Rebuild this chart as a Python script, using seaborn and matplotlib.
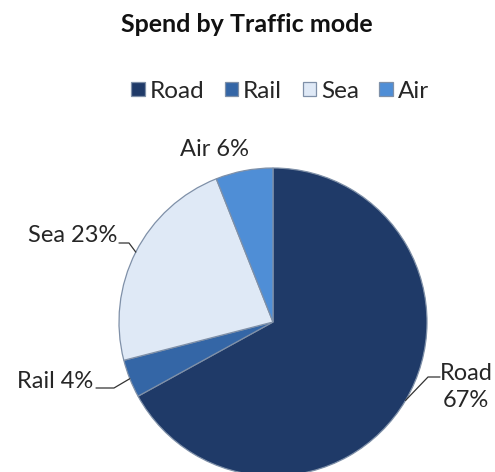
import matplotlib
matplotlib.use("Agg")
import matplotlib.pyplot as plt
import seaborn as sns
import numpy as np

# Spend share by traffic mode (%)
modes = ["Road", "Rail", "Sea", "Air"]
shares = [67, 4, 23, 6]
colors = ["#1f3a68", "#3466a6", "#dfe9f6", "#4f8ed6"]

sns.set_theme(style="white")
plt.rcParams["font.family"] = ["Lato", "DejaVu Sans"]

W, H = 495, 472
fig = plt.figure(figsize=(W / 100, H / 100), dpi=100)
ax = fig.add_axes([0, 0, 1, 1])

cx, cy, r = 273, H - 322, 154
wedges, _ = ax.pie(
    shares, colors=colors, startangle=90, counterclock=False,
    center=(cx, cy), radius=r,
    wedgeprops=dict(edgecolor="#7f90a8", linewidth=0.9),
)
ax.set_xlim(0, W)
ax.set_ylim(0, H)
ax.set_aspect("equal")
ax.axis("off")

txt = "#262626"
fs = 17

def edge_point(w):
    a = np.deg2rad((w.theta1 + w.theta2) / 2)
    return cx + r * np.cos(a), cy + r * np.sin(a)

# Air: label above the slice, no leader
ax.text(214, H - 150, f"{modes[3]} {shares[3]}%", ha="center", va="center",
        fontsize=fs, color=txt)

# Sea
ex, ey = edge_point(wedges[2])
ax.plot([119, 129, ex], [H - 243, H - 243, ey], color="#333333", lw=0.9)
ax.text(117, H - 236, f"{modes[2]} {shares[2]}%", ha="right", va="center",
        fontsize=fs, color=txt)

# Rail
ex, ey = edge_point(wedges[1])
ax.plot([96, 114, ex], [H - 388, H - 388, ey], color="#333333", lw=0.9)
ax.text(93, H - 382, f"{modes[1]} {shares[1]}%", ha="right", va="center",
        fontsize=fs, color=txt)

# Road
ex, ey = edge_point(wedges[0])
ax.plot([440, 428, ex], [H - 377, H - 377, ey], color="#333333", lw=0.9)
ax.text(466, H - 387, f"{modes[0]}\n{shares[0]}%", ha="center", va="center",
        fontsize=fs, color=txt, linespacing=1.35)

fig.text(247 / W, 1 - 24 / H, "Spend by Traffic mode", ha="center", va="center",
         fontsize=18, fontweight="bold", color="#111111")

fig.legend(wedges, modes, loc="center", bbox_to_anchor=(280 / W, 1 - 91 / H),
           ncol=4, frameon=False, handlelength=0.55, handleheight=0.55,
           handletextpad=0.2, columnspacing=0.85, fontsize=17.5,
           labelcolor=txt)

fig.savefig("out.png", dpi=100)
